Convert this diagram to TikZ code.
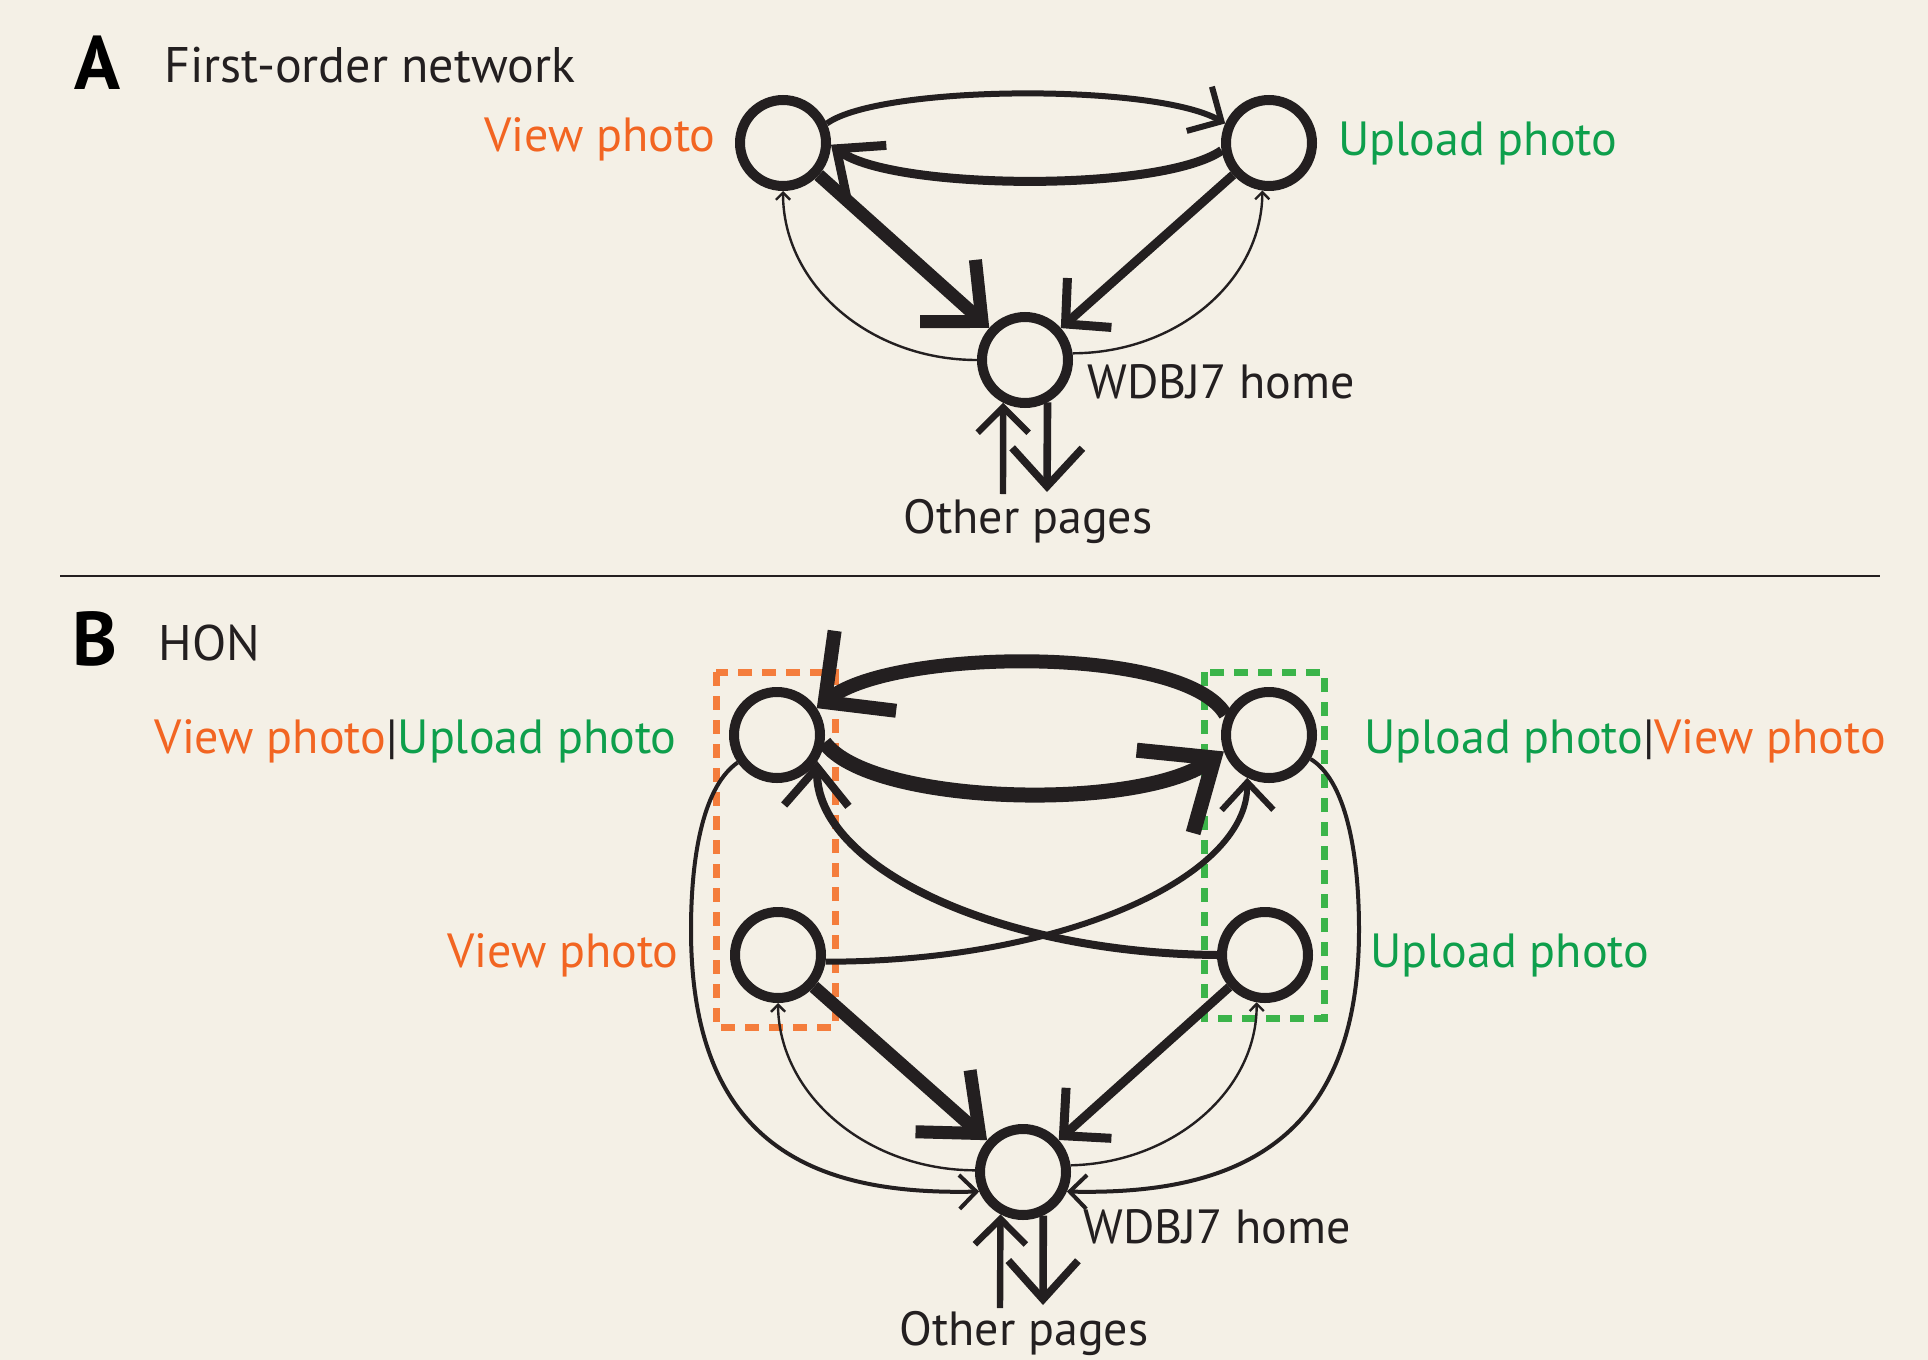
\documentclass[tikz,border=0pt]{standalone}
\usepackage{fontspec}
\setmainfont{PT Sans}
\usetikzlibrary{arrows.meta}
\definecolor{ink}{HTML}{231F20}
\definecolor{bg}{HTML}{F4F0E6}
\definecolor{orT}{HTML}{F26522}
\definecolor{grT}{HTML}{0E9F4C}
\definecolor{orD}{HTML}{F47D3C}
\definecolor{grD}{HTML}{3BB44A}
\begin{document}
\begin{tikzpicture}[x=0.5pt,y=-0.5pt,
  nd/.style={circle,draw=ink,line width=5pt,minimum size=43pt,inner sep=0pt},
  lab/.style={font=\fontsize{24}{28}\selectfont,inner sep=0pt,text=ink},
  ttl/.style={font=\fontsize{25}{30}\selectfont,inner sep=0pt,text=ink},
  big/.style={font=\fontsize{38}{44}\selectfont\bfseries,inner sep=0pt,text=black},
  ed/.style={draw=ink,line width=#1},
  ar/.style 2 args={-{Straight Barb[angle=#1:#2]}},
  box/.style={line width=3.5pt,dash pattern=on 7pt off 5pt}
]
\fill[bg] (0,0) rectangle (1928,1360);
\useasboundingbox (0,0) rectangle (1928,1360);

% ---------- Panel A ----------
\node[big,anchor=base west] (lA) at (74,89) {A};
\node[ttl,anchor=base west] (tA) at (164,83) {First-order network};

\node[nd] (va) at (783,143) {};
\node[nd] (ua) at (1269,143) {};
\node[nd] (ha) at (1025,360) {};
\coordinate (opaUp) at (1003,494);
\coordinate (opaDn) at (1047,492);

\node[lab,text=orT,anchor=base east] (lva) at (716,151) {View photo};
\node[lab,text=grT,anchor=base west] (lua) at (1338,155) {Upload photo};
\node[lab,anchor=base west] (lha) at (1087,398) {WDBJ7 home};
\node[lab,anchor=base] (loa) at (1028,533) {Other pages};

\draw[ed=3pt,ar={90}{18pt}] (va.24) .. controls (880,85) and (1154,83) .. (ua.156);
\draw[ed=4.5pt,ar={82}{25pt}] (ua.189) .. controls (1160,193) and (891,190) .. (va.-2);
\draw[ed=6.5pt,ar={84}{31pt}] (va) -- (ha);
\draw[ed=4.5pt,ar={92}{23pt}] (ua) -- (ha);
\draw[ed=1.2pt,ar={90}{5pt}] (ha.180) .. controls (870,360) and (783,285) .. (va.-90);
\draw[ed=1.2pt,ar={90}{5pt}] (ha.8) .. controls (1178,353) and (1262,280) .. (ua.-98);
\draw[ed=3.2pt,ar={90}{18pt}] (opaUp) -- (ha.-117);
\draw[ed=3.8pt,ar={85}{26pt}] (ha.-62) -- (opaDn);

% separator
\draw[ink,line width=1.2pt] (60,576) -- (1880,576);

% ---------- Panel B ----------
\node[big,anchor=base west] (lB) at (72,665) {B};
\node[ttl,anchor=base west] (tB) at (158,660) {HON};

\draw[orD,box] (716,672) rectangle (835,1027);
\draw[grD,box] (1204,672) rectangle (1324,1018);

\node[nd] (vu) at (777,735) {};
\node[nd] (uv) at (1269,735) {};
\node[nd] (v) at (778,955) {};
\node[nd] (u) at (1265,955) {};
\node[nd] (hb) at (1023,1172) {};
\coordinate (opbUp) at (1000,1308);
\coordinate (opbDn) at (1043,1305);

\node[lab,anchor=base east] (lvu) at (677,753) {\textcolor{orT}{View photo}|\textcolor{grT}{Upload photo}};
\node[lab,anchor=base west] (luv) at (1364,753) {\textcolor{grT}{Upload photo}|\textcolor{orT}{View photo}};
\node[lab,text=orT,anchor=base east] (lv) at (679,967) {View photo};
\node[lab,text=grT,anchor=base west] (lu) at (1370,967) {Upload photo};
\node[lab,anchor=base west] (lhb) at (1083,1243) {WDBJ7 home};
\node[lab,anchor=base] (lob) at (1024,1345) {Other pages};

\draw[ed=7pt,ar={89}{36pt}] (uv.155) .. controls (1185,645) and (895,648) .. (vu.34);
\draw[ed=7.5pt,ar={80}{39pt}] (vu.-9) .. controls (870,805) and (1135,812) .. (uv.-160);
\draw[ed=4pt,ar={80}{25pt}] (u.180) .. controls (995,953) and (815,866) .. (vu.-33);
\draw[ed=3pt,ar={86}{19pt}] (v.-8) .. controls (1059,962) and (1248,879) .. (uv.-117);
\draw[ed=6.5pt,ar={80}{32pt}] (v) -- (hb);
\draw[ed=4.5pt,ar={90}{24pt}] (u) -- (hb);
\draw[ed=1.2pt,ar={90}{5pt}] (hb.178) .. controls (867,1170) and (779,1095) .. (v.-90);
\draw[ed=1.2pt,ar={90}{5pt}] (hb.8) .. controls (1173,1163) and (1257,1091) .. (u.-100);
\draw[ed=2pt,ar={90}{12pt}] (vu.215) .. controls (705,785) and (691,850) .. (691,930) .. controls (691,1150) and (820,1195) .. (hb.204);
\draw[ed=2pt,ar={90}{12pt}] (uv.-30) .. controls (1345,780) and (1359,850) .. (1359,930) .. controls (1359,1150) and (1225,1195) .. (hb.-24);
\draw[ed=3.2pt,ar={90}{18pt}] (opbUp) -- (hb.-118);
\draw[ed=3.8pt,ar={84}{26pt}] (hb.-65) -- (opbDn);
\end{tikzpicture}
\end{document}
